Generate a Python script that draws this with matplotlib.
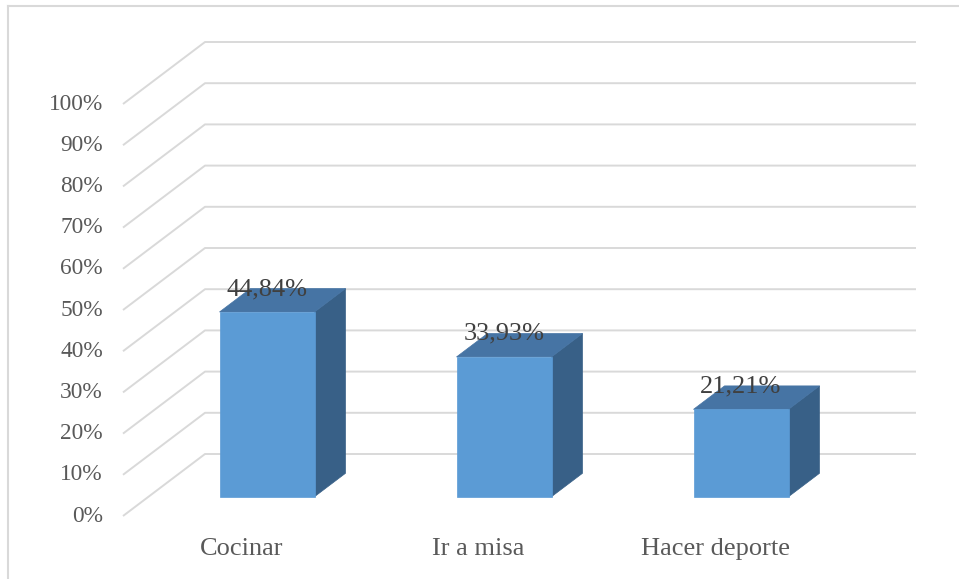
import matplotlib
matplotlib.use("Agg")
import matplotlib.pyplot as plt
from matplotlib.patches import Polygon
from matplotlib.lines import Line2D

# ---- data ----
categories = ["Cocinar", "Ir a misa", "Hacer deporte"]
values = [44.84, 33.93, 21.21]
value_labels = ["44,84%", "33,93%", "21,21%"]
ticks = [0, 10, 20, 30, 40, 50, 60, 70, 80, 90, 100]
tick_labels = [f"{t}%" for t in ticks]

# ---- style / geometry ----
W, H = 959, 579
DPI = 100
PX_X = 237.0      # pixels per category unit
PX_Y = 4.12       # pixels per percent
X0_PX, Y0_PX = 123, 516   # front-floor origin in pixel (from top)
DEPTH_DX = 82 / PX_X       # depth shift in category units
DEPTH_DY = 62 / PX_Y       # depth shift in percent units
BAR_W = 95 / PX_X
BAR_D0, BAR_D1 = 0.311, 0.689

FRONT = "#5b9bd5"
TOP = "#4674a4"
SIDE = "#386087"
GRID = "#d9d9d9"
TXT = "#595959"
LBL = "#404040"
FONT = ["Liberation Serif", "DejaVu Serif"]

fig = plt.figure(figsize=(W / DPI, H / DPI), dpi=DPI)
ax = fig.add_axes([0, 0, 1, 1])
ax.set_xlim(-X0_PX / PX_X, (W - X0_PX) / PX_X)
ax.set_ylim(-(H - Y0_PX) / PX_Y, Y0_PX / PX_Y)
ax.axis("off")


def P(x, v, d):
    return (x + d * DEPTH_DX, v + d * DEPTH_DY)


n = len(categories)

# gridlines (side wall + back wall)
for t, lab in zip(ticks, tick_labels):
    xs, ys = zip(P(0, t, 0), P(0, t, 1), P(n, t, 1))
    ax.plot(xs, ys, color=GRID, lw=1.4, zorder=1, solid_capstyle="butt")
    ax.text(-20 / PX_X, t, lab, ha="right", va="center", color=TXT,
            fontsize=16.8, family=FONT)

# bars
for i, (v, lab) in enumerate(zip(values, value_labels)):
    cx = i + 0.5
    x0 = cx - BAR_W / 2
    x1 = cx + BAR_W / 2
    front = [P(x0, 0, BAR_D0), P(x1, 0, BAR_D0), P(x1, v, BAR_D0), P(x0, v, BAR_D0)]
    side = [P(x1, 0, BAR_D0), P(x1, 0, BAR_D1), P(x1, v, BAR_D1), P(x1, v, BAR_D0)]
    top = [P(x0, v, BAR_D0), P(x1, v, BAR_D0), P(x1, v, BAR_D1), P(x0, v, BAR_D1)]
    for poly, col in ((side, SIDE), (top, TOP), (front, FRONT)):
        ax.add_patch(Polygon(poly, closed=True, facecolor=col, edgecolor=col,
                             lw=0.5, zorder=3))
    fx, fy = P(cx, v, BAR_D0)
    ax.text(fx, fy + 17 / PX_Y, lab, ha="center", va="baseline", color=LBL,
            fontsize=19, family=FONT, zorder=5)
    # category label
    ax.text(cx, -39 / PX_Y, categories[i], ha="center", va="baseline",
            color=TXT, fontsize=19, family=FONT)

# chart border (left + top)
fig.add_artist(Line2D([8 / W, 8 / W], [0, 1 - 6 / H], transform=fig.transFigure,
                      color=GRID, lw=1.5))
fig.add_artist(Line2D([8 / W, 958 / W], [1 - 6 / H, 1 - 6 / H],
                      transform=fig.transFigure, color=GRID, lw=1.5))

fig.savefig("out.png", dpi=DPI)
